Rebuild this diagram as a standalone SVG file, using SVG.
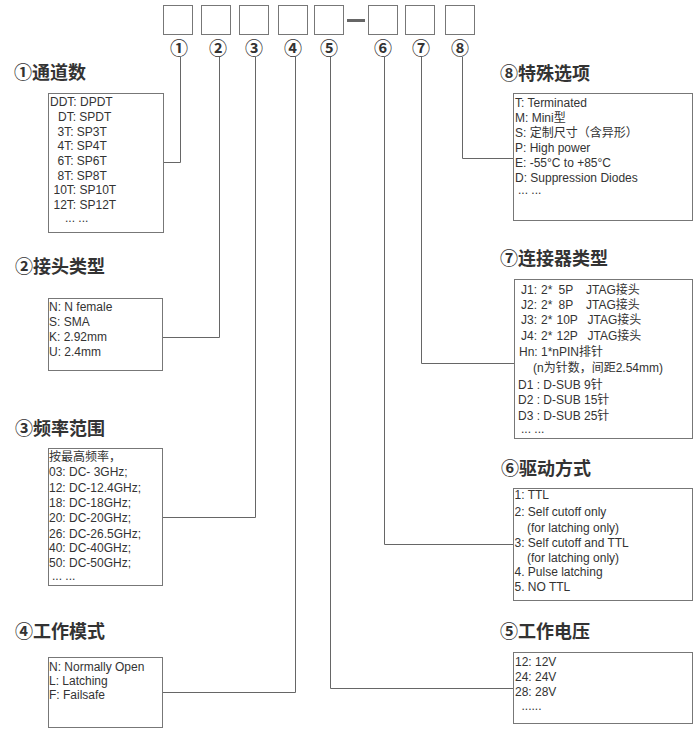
<svg xmlns="http://www.w3.org/2000/svg" width="697" height="739" viewBox="0 0 697 739">
<style>
.bg{fill:#fff}
.slot{fill:#fff;stroke:#777;stroke-width:1}
.box{fill:#fff;stroke:#777;stroke-width:1}
.ln{fill:none;stroke:#666;stroke-width:1}
.num{font-family:"Noto Sans CJK SC",sans-serif;font-size:18px;font-weight:bold;fill:#333;text-anchor:middle}
.ttl{font-family:"Noto Sans CJK SC",sans-serif;font-size:18px;font-weight:bold;fill:#333}
.t{font-family:"Liberation Sans","Noto Sans CJK SC",sans-serif;font-size:12px;fill:#333}
</style>
<rect class="bg" x="0" y="0" width="697" height="739"/>
<g id="code">
<rect class="slot" x="163.5" y="5.5" width="29" height="29"/>
<rect class="slot" x="201.5" y="5.5" width="29" height="29"/>
<rect class="slot" x="239.5" y="5.5" width="29" height="29"/>
<rect class="slot" x="278.5" y="5.5" width="29" height="29"/>
<rect class="slot" x="314.5" y="5.5" width="29" height="29"/>
<rect x="347" y="19" width="18" height="3" fill="#666"/>
<rect class="slot" x="368.5" y="5.5" width="29" height="29"/>
<rect class="slot" x="405.5" y="5.5" width="29" height="29"/>
<rect class="slot" x="445.5" y="5.5" width="29" height="29"/>
<text class="num" x="179" y="55">①</text>
<text class="num" x="218" y="55">②</text>
<text class="num" x="254" y="55">③</text>
<text class="num" x="293" y="55">④</text>
<text class="num" x="329" y="55">⑤</text>
<text class="num" x="383" y="55">⑥</text>
<text class="num" x="421" y="55">⑦</text>
<text class="num" x="460" y="55">⑧</text>
</g>
<g id="connectors">
<polyline class="ln" points="180.5,57 180.5,162.5 163,162.5"/>
<polyline class="ln" points="219.5,57 219.5,337.5 163,337.5"/>
<polyline class="ln" points="255.5,57 255.5,517.5 163,517.5"/>
<polyline class="ln" points="295.5,57 295.5,692.5 163,692.5"/>
<polyline class="ln" points="330.5,57 330.5,688.5 513,688.5"/>
<polyline class="ln" points="384.5,57 384.5,544.5 513,544.5"/>
<polyline class="ln" points="421.5,57 421.5,363.5 514,363.5"/>
<polyline class="ln" points="462.5,57 462.5,158.5 513,158.5"/>
</g>
<g id="n1">
<text class="ttl" x="14" y="79">①通道数</text>
<rect class="box" x="48.5" y="93.5" width="115" height="139"/>
<text class="t" x="50" y="106">DDT: DPDT</text>
<text class="t" x="58" y="121">DT: SPDT</text>
<text class="t" x="57.5" y="135.5">3T: SP3T</text>
<text class="t" x="57.5" y="150">4T: SP4T</text>
<text class="t" x="57.5" y="164.5">6T: SP6T</text>
<text class="t" x="57.5" y="179.5">8T: SP8T</text>
<text class="t" x="53.5" y="194">10T: SP10T</text>
<text class="t" x="53.5" y="208.5">12T: SP12T</text>
<text class="t" x="65" y="222">... ...</text>
</g>
<g id="n2">
<text class="ttl" x="15" y="273">②接头类型</text>
<rect class="box" x="48.5" y="298.5" width="114" height="72"/>
<text class="t" x="49" y="311">N: N female</text>
<text class="t" x="49" y="326">S: SMA</text>
<text class="t" x="49" y="341">K: 2.92mm</text>
<text class="t" x="49" y="355.5">U: 2.4mm</text>
</g>
<g id="n3">
<text class="ttl" x="15" y="435">③频率范围</text>
<rect class="box" x="48.5" y="448.5" width="114" height="137"/>
<text class="t" x="49" y="461">按最高频率，</text>
<text class="t" x="49" y="476">03: DC- 3GHz;</text>
<text class="t" x="49" y="491.5">12: DC-12.4GHz;</text>
<text class="t" x="49" y="507">18: DC-18GHz;</text>
<text class="t" x="49" y="521.5">20: DC-20GHz;</text>
<text class="t" x="49" y="537.5">26: DC-26.5GHz;</text>
<text class="t" x="49" y="551.5">40: DC-40GHz;</text>
<text class="t" x="49" y="567">50: DC-50GHz;</text>
<text class="t" x="52" y="580">... ...</text>
</g>
<g id="n4">
<text class="ttl" x="15" y="638">④工作模式</text>
<rect class="box" x="48.5" y="657.5" width="114" height="70"/>
<text class="t" x="49" y="671">N: Normally Open</text>
<text class="t" x="49" y="685">L: Latching</text>
<text class="t" x="49" y="699">F: Failsafe</text>
</g>
<g id="n8">
<text class="ttl" x="500" y="80">⑧特殊选项</text>
<rect class="box" x="513.5" y="93.5" width="179" height="127"/>
<text class="t" x="515" y="107">T: Terminated</text>
<text class="t" x="515" y="121.5">M: Mini型</text>
<text class="t" x="515" y="136.5">S: 定制尺寸（含异形）</text>
<text class="t" x="515" y="151.5">P: High power</text>
<text class="t" x="515" y="166.5">E: -55°C to +85°C</text>
<text class="t" x="515" y="181.5">D: Suppression Diodes</text>
<text class="t" x="518" y="194">... ...</text>
</g>
<g id="n7">
<text class="ttl" x="500" y="265">⑦连接器类型</text>
<rect class="box" x="514.5" y="279.5" width="178" height="159"/>
<text class="t" y="293.5"><tspan x="521">J1:</tspan><tspan x="541">2*</tspan><tspan x="558.5">5P</tspan><tspan x="586">JTAG接头</tspan></text>
<text class="t" y="308.5"><tspan x="521">J2:</tspan><tspan x="541">2*</tspan><tspan x="558.5">8P</tspan><tspan x="586">JTAG接头</tspan></text>
<text class="t" y="324"><tspan x="521">J3:</tspan><tspan x="541">2*</tspan><tspan x="556.5">10P</tspan><tspan x="587.5">JTAG接头</tspan></text>
<text class="t" y="340"><tspan x="521">J4:</tspan><tspan x="541">2*</tspan><tspan x="556.5">12P</tspan><tspan x="587.5">JTAG接头</tspan></text>
<text class="t" x="519" y="356">Hn: 1*nPIN排针</text>
<text class="t" x="533" y="372">(n为针数，间距2.54mm)</text>
<text class="t" x="518" y="388.5">D1 : D-SUB 9针</text>
<text class="t" x="518" y="404">D2 : D-SUB 15针</text>
<text class="t" x="518" y="419.5">D3 : D-SUB 25针</text>
<text class="t" x="521" y="433">... ...</text>
</g>
<g id="n6">
<text class="ttl" x="501" y="475">⑥驱动方式</text>
<rect class="box" x="513.5" y="488.5" width="179" height="112"/>
<text class="t" x="514.5" y="499">1: TTL</text>
<text class="t" x="514.5" y="516">2: Self cutoff only</text>
<text class="t" x="527" y="531.5">(for latching only)</text>
<text class="t" x="514.5" y="547">3: Self cutoff and TTL</text>
<text class="t" x="527" y="562">(for latching only)</text>
<text class="t" x="514.5" y="576">4. Pulse latching</text>
<text class="t" x="514.5" y="591">5. NO TTL</text>
</g>
<g id="n5">
<text class="ttl" x="500" y="638">⑤工作电压</text>
<rect class="box" x="513.5" y="652.5" width="179" height="71"/>
<text class="t" x="515" y="666">12: 12V</text>
<text class="t" x="515" y="681">24: 24V</text>
<text class="t" x="515" y="695.5">28: 28V</text>
<text class="t" x="521.5" y="710">......</text>
</g>
</svg>
